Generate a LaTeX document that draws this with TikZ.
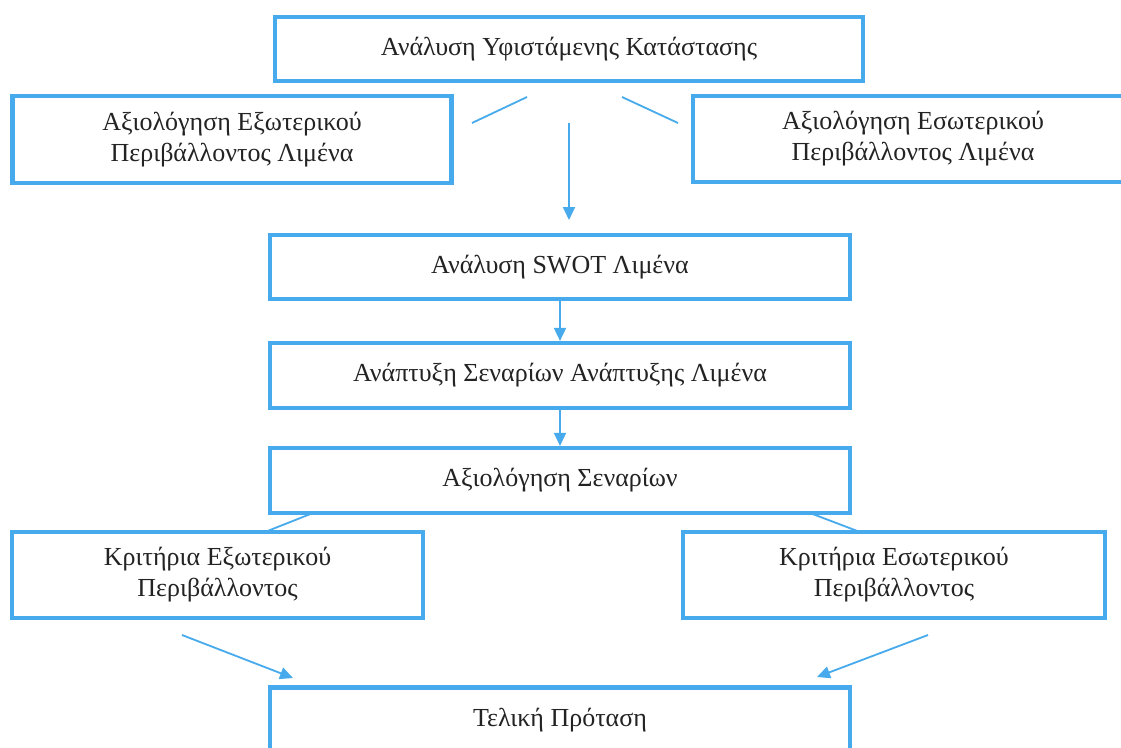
\documentclass[tikz,border=0pt]{standalone}
\usepackage{fontspec}
\setmainfont{Liberation Serif}
\usetikzlibrary{arrows.meta}
\definecolor{bl}{RGB}{70,170,236}
\definecolor{tx}{RGB}{35,35,35}
\begin{document}
\begin{tikzpicture}[x=1pt,y=-1pt,
  box/.style={draw=bl, line width=4.2pt, fill=white, inner sep=0pt, align=center,
    text=tx, font=\fontsize{26}{31}\selectfont},
  conn/.style={draw=bl, line width=1.8pt},
  arr/.style={conn, -{Triangle[length=13pt,width=12pt]}}]
\path[use as bounding box] (0,0) rectangle (1121,747);
\clip (0,0) rectangle (1121,747);
\fill[white] (0,0) rectangle (1121,747);

\node[box, minimum width=588pt, minimum height=64pt] (top) at (569,49) {Ανάλυση Υφιστάμενης Κατάστασης};
\node[box, minimum width=439pt, minimum height=87pt] (eL) at (232,139.5) {Αξιολόγηση Εξωτερικού\\Περιβάλλοντος Λιμένα};
\node[box, minimum width=440pt, minimum height=86pt] (eR) at (913,139) {Αξιολόγηση Εσωτερικού\\Περιβάλλοντος Λιμένα};
\node[box, minimum width=580pt, minimum height=64pt] (swot) at (560,267) {Ανάλυση SWOT Λιμένα};
\node[box, minimum width=580pt, minimum height=65pt] (scen) at (560,375.5) {Ανάπτυξη Σεναρίων Ανάπτυξης Λιμένα};
\node[box, minimum width=580pt, minimum height=65pt] (eval) at (560,480.5) {Αξιολόγηση Σεναρίων};
\node[box, minimum width=411pt, minimum height=86pt] (kL) at (217.5,575) {Κριτήρια Εξωτερικού\\Περιβάλλοντος};
\node[box, minimum width=422pt, minimum height=86pt] (kR) at (894,575) {Κριτήρια Εσωτερικού\\Περιβάλλοντος};
\node[box, minimum width=580pt, minimum height=65pt] (fin) at (560,720) {Τελική Πρόταση};

\coordinate (d1a) at (527,97);
\coordinate (d1b) at (472,123);
\coordinate (d2a) at (622,97);
\coordinate (d2b) at (678,123);
\coordinate (v0) at (569,123);
\coordinate (v1) at (569,220);
\coordinate (k1a) at (313,513);
\coordinate (k1b) at (265,532);
\coordinate (k2a) at (810,513);
\coordinate (k2b) at (860,532);
\coordinate (f1a) at (182,635);
\coordinate (f1b) at (293,678);
\coordinate (f2a) at (928,635);
\coordinate (f2b) at (817,677);

\draw[conn] (d1a) -- (d1b);
\draw[conn] (d2a) -- (d2b);
\draw[arr] (v0) -- (v1);
\draw[arr] (swot.south) -- (scen.north);
\draw[arr] (scen.south) -- (eval.north);
\draw[conn] (k1a) -- (k1b);
\draw[conn] (k2a) -- (k2b);
\draw[arr] (f1a) -- (f1b);
\draw[arr] (f2a) -- (f2b);
\end{tikzpicture}
\end{document}
